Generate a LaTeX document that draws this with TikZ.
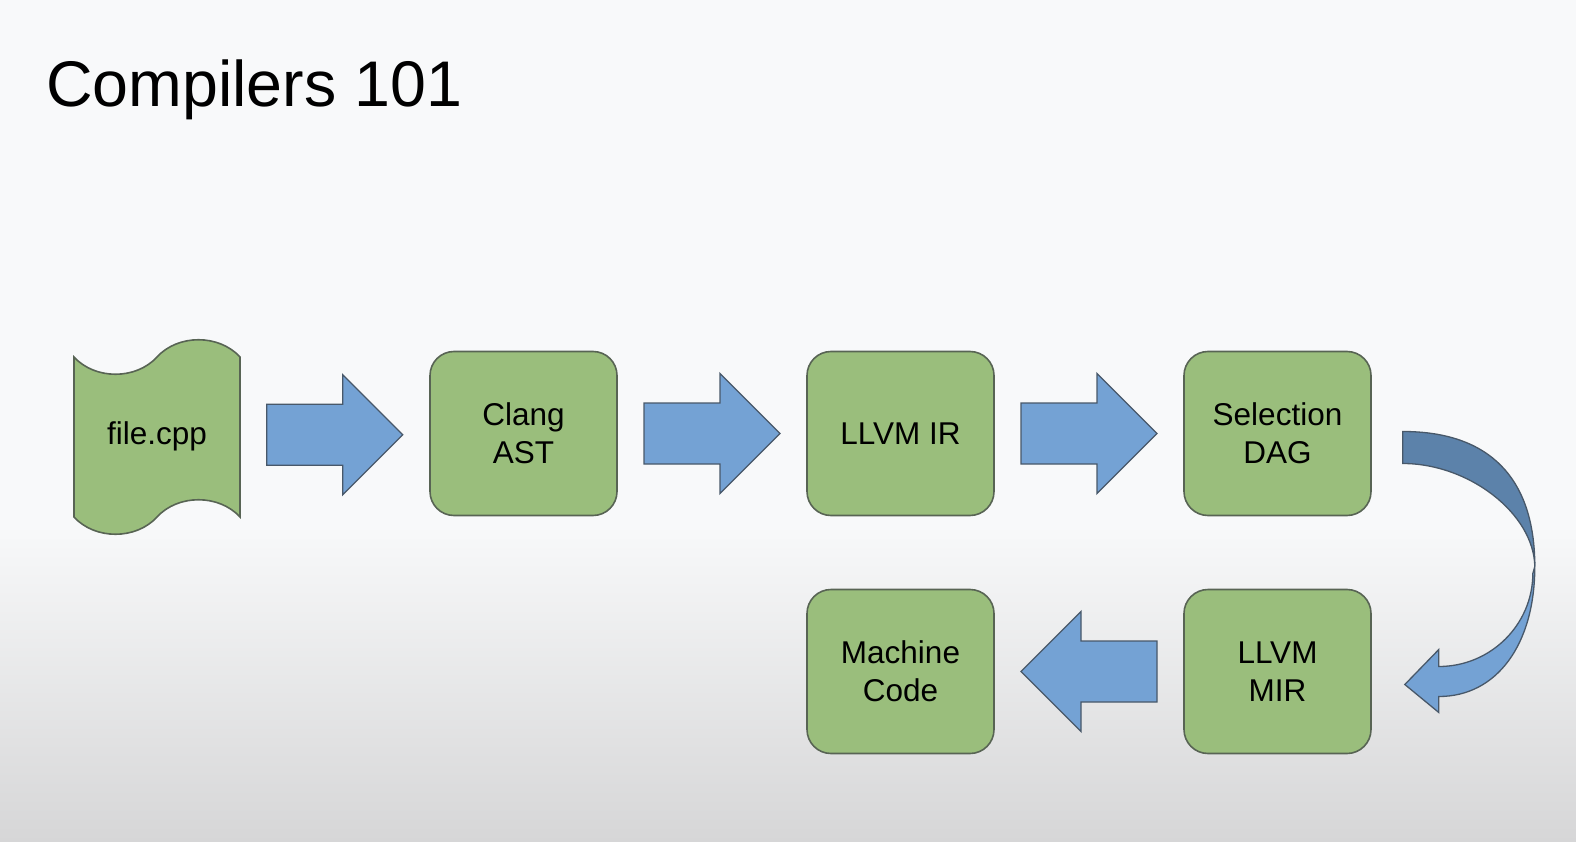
\documentclass[tikz,border=0pt]{standalone}
\usepackage{fontspec}
\setmainfont{Liberation Sans}
\usetikzlibrary{calc}
\definecolor{bgtop}{RGB}{248,249,250}
\definecolor{bgbot}{RGB}{214,214,215}
\definecolor{boxgreen}{RGB}{154,190,124}
\definecolor{boxline}{RGB}{88,100,84}
\definecolor{arrblue}{RGB}{116,162,212}
\definecolor{arrdark}{RGB}{92,130,170}
\definecolor{arrline}{RGB}{72,88,105}
\newcommand\rightblock[2]{%
  \begin{scope}[shift={($(#1.east)!.5!(#2.west)$)}]
    \draw[barrow] (-68,-30.5) -- (8,-30.5) -- (8,-60) -- (68,0) -- (8,60) -- (8,30.5) -- (-68,30.5) -- cycle;
  \end{scope}}
\newcommand\leftblock[2]{%
  \begin{scope}[shift={($(#1.west)!.5!(#2.east)$)}]
    \draw[barrow] (68,-30.5) -- (-8,-30.5) -- (-8,-60) -- (-68,0) -- (-8,60) -- (-8,30.5) -- (68,30.5) -- cycle;
  \end{scope}}
\begin{document}
\begin{tikzpicture}[x=1pt,y=-1pt,
  box/.style={draw=boxline, line width=1.6pt, fill=boxgreen, rounded corners=24pt,
    minimum width=187pt, minimum height=164pt, inner sep=0pt, align=center,
    font=\fontsize{31.5}{38}\selectfont, text depth=-2pt},
  barrow/.style={draw=arrline, fill=arrblue, line width=1.3pt, line join=miter}]
\path[use as bounding box] (0,0) rectangle (1576,842);
\fill[bgtop] (0,0) rectangle (1576,842);
\shade[top color=bgtop, bottom color=bgbot] (0,525) rectangle (1576,842);

\node[anchor=base west, inner sep=0pt, font=\fontsize{64.5}{70}\selectfont] (title) at (46,107) {Compilers 101};

% punched tape
\draw[draw=boxline, line width=1.6pt, fill=boxgreen]
  (74,357) .. controls (95,380) and (136,380) .. (157,357)
  .. controls (178,334) and (219,334) .. (240,357)
  -- (240,517)
  .. controls (219,494) and (178,494) .. (157,517)
  .. controls (136,540) and (95,540) .. (74,517) -- cycle;
\node[minimum width=166pt, minimum height=160pt, inner sep=0pt,
  font=\fontsize{31.5}{38}\selectfont] (file) at (157,436) {file.cpp};

\node[box] (clang) at (523.5,433.5) {Clang\\AST};
\node[box] (ir) at (900.5,433.5) {LLVM IR};
\node[box] (sel) at (1277.5,433.5) {Selection\\DAG};
\node[box] (mir) at (1277.5,671.5) {LLVM\\MIR};
\node[box] (mc) at (900.5,671.5) {Machine\\Code};

\rightblock{file}{clang}
\rightblock{clang}{ir}
\rightblock{ir}{sel}
\leftblock{mir}{mc}

% curved arrow
\begin{scope}[shift={(sel.east)}]
  \draw[draw=arrline, fill=arrdark, line width=1.3pt]
    (31,-2) .. controls (118,-2) and (163,45) .. (163,133)
    .. controls (162,80) and (97,30) .. (31,30) -- cycle;
  \draw[draw=arrline, fill=arrblue, line width=1.3pt, line join=miter]
    (163,133) .. controls (163,211) and (125,263) .. (67,263)
    -- (67,279) -- (33,251) -- (67,216) -- (67,233)
    .. controls (119,233) and (161,191) .. (161,140) -- cycle;
\end{scope}
\end{tikzpicture}
\end{document}
